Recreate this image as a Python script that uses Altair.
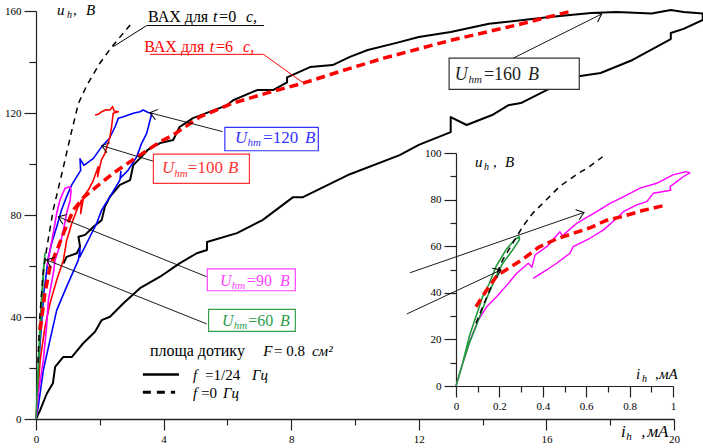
import math
import altair as alt
import pandas as pd

FONT = "Liberation Serif, DejaVu Serif, serif"
W, H = 638, 408

# ---------------- main chart data: (i_h, mA ; u_h, V) ----------------
black_loop = [(0, 0), (0.13, 3.5), (0.34, 10), (0.53, 14), (0.6, 20.4), (0.85, 24.3), (1.12, 24.3),
              (1.48, 29.7), (1.85, 34.2), (2.06, 38.8), (2.32, 40.1), (2.74, 45.4), (3.26, 51.3),
              (3.89, 55.8), (4.5, 61), (5.04, 65), (5.36, 66.3), (5.36, 69.4), (6.3, 72.9), (7.1, 78),
              (8.06, 87), (8.37, 87), (9.84, 96), (11.4, 103.5), (12.0, 107.5), (13.0, 112.5),
              (13.0, 118.4), (13.5, 115.3), (14.3, 119.2), (14.8, 123), (15.2, 123.9), (16.8, 134),
              (17.7, 135.7), (18.7, 140.8), (19.9, 149), (19.9, 151.4), (20.3, 153), (20.9, 156.5),
              (20.9, 159), (20.3, 159.6), (19.9, 160.4), (19.3, 159), (18.2, 159.6), (17.4, 159.2),
              (16.1, 157.6), (14.2, 155), (13.0, 151.8), (12.0, 149.8), (11.3, 147.5), (10.4, 144.7),
              (9.84, 142), (9.3, 138.8), (8.59, 138), (7.87, 134), (7.87, 132), (7.43, 129), (6.93, 129),
              (6.18, 125), (5.98, 123), (4.92, 118), (4.5, 114.5), (4.3, 109.4), (3.89, 108.2),
              (3.5, 105.5), (3.26, 102.2), (3.05, 99.6), (2.95, 93.7), (2.63, 91.8), (2.32, 87.2),
              (2.16, 83.3), (2.06, 78), (1.8, 75.4), (1.54, 72.2), (1.33, 71.5), (1.38, 67.6),
              (1.28, 65), (0.96, 63.6), (0.86, 61)]

blue_loop = [(0, 0), (0.07, 4.8), (0.23, 19.2), (0.44, 31), (0.65, 42.7), (0.96, 51.9), (1.33, 62.4),
             (1.38, 67), (1.37, 63.5), (1.64, 70.2), (1.9, 76.7), (2.06, 82), (2.32, 87.2), (2.63, 93.7),
             (2.66, 97), (2.65, 94.5), (2.89, 97.6), (3.16, 102.9), (3.31, 108.1), (3.47, 112),
             (3.55, 116), (3.63, 119.8), (3.5, 120.3), (3.36, 121.2), (3.26, 120.5), (3.05, 119.9),
             (2.74, 118.5), (2.58, 117.9), (2.48, 114.6), (2.3, 110), (2.06, 106.8), (1.8, 102.2),
             (1.5, 99.5), (1.38, 102), (1.4, 97.5), (1.12, 91.8), (0.96, 87.2), (0.8, 82), (0.65, 75.4),
             (0.49, 68.9), (0.39, 63.6), (0.25, 50), (0.12, 28), (0.03, 6)]

red_loop = [(0, 0), (0.13, 23), (0.28, 36), (0.44, 45.4), (0.65, 54.5), (0.86, 62.4), (0.96, 70),
            (1.12, 76.7), (1.28, 82), (1.43, 85.9), (1.4, 80.5), (1.5, 87.5), (1.64, 89.8), (1.8, 93.7),
            (1.95, 98.9), (1.93, 95), (2.05, 101.5), (2.16, 104.2), (2.32, 110.7), (2.37, 114.6),
            (2.42, 119.9), (2.58, 120.5), (2.45, 120.8), (2.4, 122.5), (2.32, 121.2), (2.2, 121.3),
            (2.06, 120.5), (1.95, 119.5), (1.85, 119.2)]

magenta_loop = [(0, 0), (0.07, 10), (0.23, 23), (0.33, 36), (0.39, 46.7), (0.54, 57), (0.6, 62.4),
                (0.75, 68), (0.86, 74.1), (0.96, 80.7), (1.07, 85.9), (1.1, 89.5), (1.07, 91.1),
                (0.91, 90.5), (0.75, 85.9), (0.65, 80.7), (0.54, 72.8), (0.44, 66.3), (0.35, 60)]

green_loop = [(0, 0), (0.04, 12), (0.1, 30), (0.17, 47), (0.23, 58), (0.28, 65), (0.25, 60),
              (0.18, 45), (0.1, 26), (0.04, 10)]

vax_t0 = [(0.06, 22), (0.12, 40), (0.22, 57), (0.35, 68), (0.54, 82), (0.86, 98.9), (1.1, 112),
          (1.33, 123.8), (1.6, 131), (2.0, 139.5), (2.38, 146), (2.95, 154.5)]

vax_t6 = [(0.13, 34.9), (0.28, 49.3), (0.44, 59.7), (0.7, 67.6), (0.86, 72.8), (1.17, 82), (1.5, 87),
          (1.9, 91.1), (2.42, 96.4), (2.95, 100.9), (3.42, 104.8), (3.89, 108.7), (4.3, 111.4),
          (5.14, 118.5), (6.18, 123.9), (7.23, 127.8), (8.37, 131.7), (9.84, 137.5), (10.9, 141.5),
          (13.0, 148.5), (15.07, 154.5), (16.8, 160)]

# ---------------- inset data ----------------
in_vax_t0 = [(0.092, 26.9), (0.123, 34), (0.169, 44.1), (0.215, 54.1), (0.261, 61.2), (0.307, 68.4),
             (0.353, 74.1), (0.415, 79.8), (0.476, 85.5), (0.553, 90.6), (0.614, 94.1), (0.676, 98.4)]

in_vax_t6 = [(0.092, 34), (0.14, 41), (0.19, 47.5), (0.25, 51), (0.31, 54.5), (0.38, 59.5), (0.46, 63),
             (0.54, 65.5), (0.62, 68), (0.69, 71), (0.77, 72.8), (0.86, 75.3), (0.97, 77.7)]

in_magenta = [(0, 0), (0.026, 8.3), (0.065, 19.7), (0.103, 28.3), (0.141, 34), (0.187, 38.3),
              (0.234, 43.3), (0.28, 48.4), (0.333, 52.7), (0.35, 51), (0.364, 56.2), (0.418, 59.8),
              (0.479, 66.2), (0.49, 64.5), (0.556, 69.8), (0.648, 74.8), (0.71, 78.4), (0.771, 81.2),
              (0.848, 84.9), (0.925, 87), (1.0, 90.6), (1.06, 92), (1.078, 91.5), (1.047, 89.8),
              (1.017, 87.7), (0.986, 85.5), (0.99, 84), (0.909, 82.7), (0.879, 79.1), (0.833, 77.7),
              (0.771, 74.8), (0.741, 72), (0.68, 67), (0.617, 63.4), (0.54, 59.8), (0.525, 57),
              (0.464, 52.7), (0.418, 49.8), (0.356, 46.2)]

in_green = [(0, 0), (0.008, 2.6), (0.031, 9.9), (0.061, 21.2), (0.092, 29.8), (0.123, 38.4),
            (0.154, 44.1), (0.184, 51.2), (0.23, 58.4), (0.269, 62.7), (0.292, 64.1), (0.292, 62.7),
            (0.261, 58.4), (0.215, 52.6), (0.184, 46.9), (0.138, 36.9), (0.092, 25.5), (0.061, 18.3),
            (0.031, 9.8), (0.01, 3)]

# ---------------- annotations ----------------
main_arrows = [(14.96, 141.5, 17.73, 158.8), (5.85, 112.7, 3.57, 120.1), (3.73, 100.9, 2.06, 107.2),
               (5.35, 55.8, 0.7, 79.3), (5.35, 37.3, 0.33, 62.4)]
inset_arrows = [(-0.212, 48.6, 0.59, 74.5), (-0.227, 30.9, 0.207, 49.8)]

leader_t0 = [(2.42, 146), (3.47, 154.3), (7.15, 154.3)]
leader_t6 = [(3.57, 143.0), (7.13, 143.0), (8.38, 131.8)]

boxes = [(12.95, 17.03, 129.3, 141.5, "#333333"), (5.92, 8.85, 105.2, 114.4, "#3333ff"),
         (3.68, 6.69, 92.4, 103.9, "#ff3333"), (5.37, 8.13, 50.3, 58.9, "#ff44ff"),
         (5.41, 8.13, 34.4, 43.0, "#33a050")]

main_italic = [
    (5.55, 155.5, "t", "black", 16), (6.58, 155.5, "c,", "black", 16),
    (5.45, 144.1, "t", "#ff0000", 16), (6.49, 144.1, "c,", "#ff0000", 16),
    (13.13, 132.9, "U", "#222222", 18), (13.56, 131.6, "hm", "#222222", 11), (15.42, 132.9, "B", "#222222", 18),
    (6.24, 108.1, "U", "#3333ff", 17), (6.63, 106.9, "hm", "#3333ff", 11), (8.43, 108.1, "B", "#3333ff", 17),
    (3.95, 96.4, "U", "#ff3333", 17), (4.33, 94.9, "hm", "#ff3333", 11), (6.02, 96.4, "B", "#ff3333", 17),
    (5.77, 52.3, "U", "#ff44ff", 16), (6.14, 50.8, "hm", "#ff44ff", 11), (7.65, 52.3, "B", "#ff44ff", 16),
    (5.83, 36.5, "U", "#2e9e4e", 16), (6.2, 35.1, "hm", "#2e9e4e", 11), (7.65, 36.5, "B", "#2e9e4e", 16),
    (0.66, 158.4, "u", "black", 15), (0.97, 157.3, "h", "black", 10), (1.57, 158.4, "B", "black", 15),
    (18.34, -6.9, "i", "black", 17), (18.5, -8.2, "h", "black", 11), (19.16, -6.9, "мА", "black", 17),
    (7.12, 24.7, "F", "black", 15), (8.65, 24.7, "см²", "black", 15),
    (4.92, 15.3, "f", "black", 15), (6.77, 15.3, "Гц", "black", 15),
    (4.92, 8.2, "f", "black", 15), (5.86, 8.2, "Гц", "black", 15),
]
main_upright = [
    (3.51, 155.5, "ВАХ для", "black", 16), (5.74, 155.5, "=0", "black", 16),
    (3.39, 144.1, "ВАХ для", "#ff0000", 16), (5.64, 144.1, "=6", "#ff0000", 16),
    (14.04, 132.9, "=160", "#222222", 18), (7.12, 108.1, "=120", "#3333ff", 17),
    (4.76, 96.4, "=100", "#ff3333", 17), (6.61, 52.3, "=90", "#ff44ff", 16),
    (6.65, 36.5, "=60", "#2e9e4e", 16),
    (1.16, 158.4, ",", "black", 15), (18.97, -6.9, ",", "black", 17),
    (3.57, 24.7, "площа дотику", "black", 16), (7.46, 24.7, "= 0.8", "black", 15),
    (5.3, 15.3, "=1/24", "black", 15), (5.17, 8.2, "=0", "black", 15),
]
inset_italic = [(0.088, 94.1, "u", "black", 15), (0.129, 92.9, "h", "black", 10),
                (0.226, 94.1, "B", "black", 15), (0.829, 3.0, "i", "black", 15),
                (0.857, 1.9, "h", "black", 10), (0.935, 3.0, "мА", "black", 15)]
inset_upright = [(0.17, 94.1, ",", "black", 15), (0.917, 3.0, ",", "black", 15)]

legend_solid = (3.35, 4.48, 17.5)
legend_dashed = (3.35, 4.36, 10.5)

# ---------------- scales & axes ----------------
def tick_cond(test, major, minor):
    return {"condition": {"test": test, "value": major}, "value": minor}

axis_common = dict(grid=False, title=None, labelFont=FONT, labelFontSize=11, labelColor="black",
                   domainColor="#222222", tickColor="#222222", labelFlush=False, labelOverlap=False)

mx_scale = alt.Scale(domain=[0, 20], nice=False, zero=False)
my_scale = alt.Scale(domain=[0, 160], nice=False, zero=False)
mx_axis = alt.Axis(orient="bottom", values=list(range(0, 21, 2)),
                   labelExpr="datum.value % 4 === 0 ? datum.label : ''",
                   tickSize=tick_cond("datum.value % 4 === 0", 11, 6),
                   labelPadding=3, domainWidth=1.5, tickWidth=1.2, **axis_common)
my_axis = alt.Axis(orient="left", values=list(range(0, 161, 20)),
                   labelExpr="datum.value % 40 === 0 ? datum.label : ''",
                   tickSize=tick_cond("datum.value % 40 === 0", 12, 7),
                   labelPadding=3, domainWidth=1.2, tickWidth=1.2, **axis_common)

ix_scale = alt.Scale(domain=[0, 1], range=[420, 637], nice=False, zero=False)
iy_scale = alt.Scale(domain=[0, 100], range=[375, 142], nice=False, zero=False)
ix_axis = alt.Axis(orient="bottom", offset=-33, values=[i / 10 for i in range(11)], format="~g",
                   labelExpr="round(datum.value * 10) % 2 === 0 ? datum.label : ''",
                   tickSize=tick_cond("round(datum.value * 10) % 2 === 0", 11, 6),
                   labelPadding=3, domainWidth=1.2, tickWidth=1.2, **axis_common)
iy_axis = alt.Axis(orient="left", offset=-420, values=list(range(0, 101, 10)),
                   labelExpr="datum.value % 20 === 0 ? datum.label : ''",
                   tickSize=tick_cond("datum.value % 20 === 0", 12, 6),
                   labelPadding=3, domainWidth=1.2, tickWidth=1.2, **axis_common)


def MX(f="x"):
    return alt.X(f, type="quantitative", scale=mx_scale, axis=mx_axis)


def MY(f="y"):
    return alt.Y(f, type="quantitative", scale=my_scale, axis=my_axis)


def IX(f="x"):
    return alt.X(f, type="quantitative", scale=ix_scale, axis=ix_axis)


def IY(f="y"):
    return alt.Y(f, type="quantitative", scale=iy_scale, axis=iy_axis)


def path_df(pts):
    return pd.DataFrame({"x": [p[0] for p in pts], "y": [p[1] for p in pts], "i": list(range(len(pts)))})


def line(pts, X, Y, color, width, dash=None):
    kw = dict(color=color, strokeWidth=width, interpolate="linear", strokeJoin="round")
    if dash:
        kw["strokeDash"] = dash
    return alt.Chart(path_df(pts)).mark_line(**kw).encode(x=X(), y=Y(), order="i:Q")


def texts(rows, X, Y, italic):
    df = pd.DataFrame(rows, columns=["x", "y", "t", "c", "s"])
    return alt.Chart(df).mark_text(align="left", baseline="alphabetic", font=FONT,
                                   fontStyle="italic" if italic else "normal").encode(
        x=X(), y=Y(), text="t:N", color=alt.Color("c:N", scale=None), size=alt.Size("s:Q", scale=None))


def rules(arrows, X, Y):
    df = pd.DataFrame(arrows, columns=["x", "y", "x2", "y2"])
    return alt.Chart(df).mark_rule(color="black", strokeWidth=0.9).encode(
        x=X(), y=Y(), x2="x2:Q", y2="y2:Q")


def heads(arrows, X, Y, sx, sy):
    rows = []
    for (x0, y0, x1, y1) in arrows:
        a = math.degrees(math.atan2(-(y1 - y0) * sy, (x1 - x0) * sx)) % 360
        rows.append({"x": x1, "y": y1, "a": a})
    return alt.Chart(pd.DataFrame(rows)).mark_point(
        shape="M -1 -0.75 L 0 0 L -1 0.75", filled=False, size=200, strokeWidth=1,
        color="black", opacity=1).encode(x=X(), y=Y(), angle=alt.Angle("a:Q", scale=None))


box_df = pd.DataFrame(boxes, columns=["x", "x2", "y", "y2", "c"])
box_layer = alt.Chart(box_df).mark_rect(fill="white", strokeWidth=1.2).encode(
    x=MX(), x2="x2:Q", y=MY(), y2="y2:Q", stroke=alt.Stroke("c:N", scale=None))

leg_df = pd.DataFrame([{"x": legend_solid[0], "x2": legend_solid[1], "y": legend_solid[2]}])
leg_df2 = pd.DataFrame([{"x": legend_dashed[0], "x2": legend_dashed[1], "y": legend_dashed[2]}])
leg_solid = alt.Chart(leg_df).mark_rule(color="black", strokeWidth=2.5).encode(x=MX(), x2="x2:Q", y=MY())
leg_dash = alt.Chart(leg_df2).mark_rule(color="black", strokeWidth=3, strokeDash=[8, 6]).encode(
    x=MX(), x2="x2:Q", y=MY())

main = alt.layer(
    line(black_loop, MX, MY, "black", 2.0),
    line(blue_loop, MX, MY, "#0000ff", 1.6),
    line(red_loop, MX, MY, "#ff0000", 1.6),
    line(magenta_loop, MX, MY, "#ff00ff", 1.6),
    line(green_loop, MX, MY, "#1f9b3b", 1.6),
    line(vax_t0, MX, MY, "black", 1.5, [6, 5]),
    line(vax_t6, MX, MY, "#ff0000", 3.5, [9, 5]),
    line(leader_t0, MX, MY, "black", 1.0),
    line(leader_t6, MX, MY, "#ff0000", 1.0),
    rules(main_arrows, MX, MY),
    heads(main_arrows, MX, MY, W / 20, H / 160),
    box_layer,
    leg_solid,
    leg_dash,
    texts(main_upright, MX, MY, False),
    texts(main_italic, MX, MY, True),
)

inset = alt.layer(
    line(in_magenta, IX, IY, "#ff00ff", 1.4),
    line(in_green, IX, IY, "#1f9b3b", 1.6),
    line(in_vax_t0, IX, IY, "black", 1.5, [6, 5]),
    line(in_vax_t6, IX, IY, "#ff0000", 3.5, [9, 5]),
    rules(inset_arrows, IX, IY),
    heads(inset_arrows, IX, IY, 217, 233 / 100),
    texts(inset_upright, IX, IY, False),
    texts(inset_italic, IX, IY, True),
)

chart = alt.layer(main, inset).resolve_scale(x="independent", y="independent").properties(
    width=W, height=H,
    autosize=alt.AutoSizeParams(type="none"),
    padding={"left": 36, "top": 11, "right": 29, "bottom": 29},
).configure(background="white").configure_view(stroke=None)

chart.save("out.html", embed_options={"renderer": "svg", "actions": False})
